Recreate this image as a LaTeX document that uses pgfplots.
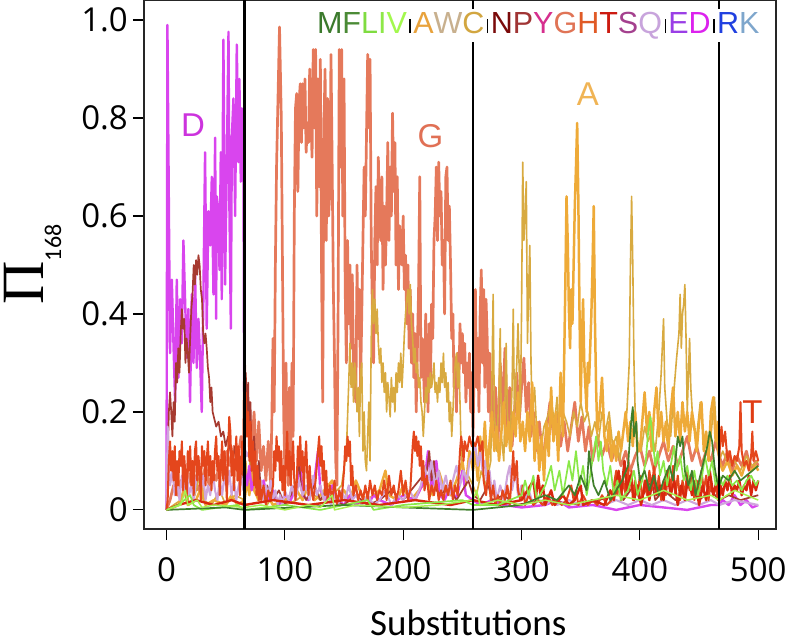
\documentclass[border=0pt]{standalone}
\usepackage{pgfplots}
\pgfplotsset{compat=1.18}
\usepackage{fontspec}
\setmainfont{Liberation Sans}
\newfontfamily\opensans{Open Sans}
\newfontfamily\carlito{Carlito}
\newfontfamily\lserif{Liberation Serif}
\definecolor{aaM}{HTML}{3B7A2C}\definecolor{aaF}{HTML}{4A8A35}\definecolor{aaL}{HTML}{7FDC40}
\definecolor{aaI}{HTML}{8EE848}\definecolor{aaV}{HTML}{A3F84E}\definecolor{aaA}{HTML}{E8A23C}
\definecolor{aaW}{HTML}{C8B08E}\definecolor{aaC}{HTML}{D2A640}\definecolor{aaN}{HTML}{7A0A0A}
\definecolor{aaP}{HTML}{A03434}\definecolor{aaY}{HTML}{D62E8E}\definecolor{aaG}{HTML}{E07456}
\definecolor{aaH}{HTML}{E05A26}\definecolor{aaT}{HTML}{CC1A10}\definecolor{aaS}{HTML}{A4408E}
\definecolor{aaQ}{HTML}{C8A4DC}\definecolor{aaE}{HTML}{9A3EE6}\definecolor{aaD}{HTML}{DC22EE}
\definecolor{aaR}{HTML}{2040E0}\definecolor{aaK}{HTML}{7EA6CC}
\definecolor{lG}{HTML}{E5795B}\definecolor{lD}{HTML}{D945EE}\definecolor{lA}{HTML}{EEAA38}
\definecolor{lC}{HTML}{D8AA40}\definecolor{lH}{HTML}{E4461C}\definecolor{lT}{HTML}{D8280E}
\definecolor{lP}{HTML}{A63A30}\definecolor{lQ}{HTML}{CFA6DC}\definecolor{lL}{HTML}{8AE848}
\definecolor{lM}{HTML}{3F7F2B}\definecolor{lV}{HTML}{A6F050}
\definecolor{tD}{HTML}{CC33DD}\definecolor{tG}{HTML}{E07055}\definecolor{tA}{HTML}{F0B455}\definecolor{tT}{HTML}{E03C14}
\newcommand{\sep}{\hspace{2.6pt}\rule{1.2pt}{14pt}\hspace{2.6pt}}
\begin{document}
\begin{tikzpicture}
\path[use as bounding box] (-144pt,-108pt) rectangle (643pt,529pt);
\begin{axis}[
  at={(0,0)}, anchor=south west,
  width=632pt, height=529pt, scale only axis,
  xmin=-19, xmax=515, ymin=-0.039, ymax=1.041,
  axis line style={line width=1.3pt, black!85},
  xtick={0,100,200,300,400,500}, xticklabels={0,100,200,300,400,500},
  ytick={0,0.2,0.4,0.6,0.8,1.0}, yticklabels={0,0.2,0.4,0.6,0.8,1.0},
  xtick pos=bottom, ytick pos=left, tick align=outside,
  major tick length=11pt,
  tick style={line width=1.2pt, black},
  ticklabel style={font=\opensans\fontsize{33}{33}\selectfont, inner sep=0pt},
  xticklabel style={yshift=-17pt},
  yticklabel style={xshift=-5pt},
  xlabel={Substitutions},
  xlabel style={at={(axis description cs:0.513,0)}, anchor=center, yshift=-94pt, inner sep=0pt, font=\carlito\fontsize{37}{37}\selectfont},
  ylabel={{\lserif\fontsize{60}{60}\selectfont Π}\raisebox{-18pt}{\carlito\fontsize{24}{24}\selectfont 168}},
  ylabel style={at={(axis description cs:-0.222,0.5)}, anchor=north, inner sep=0pt},
  title={\fontsize{30.5}{30.5}\selectfont\textcolor{aaM}{M}\textcolor{aaF}{F}\textcolor{aaL}{L}\textcolor{aaI}{I}\textcolor{aaV}{V}\sep\textcolor{aaA}{A}\textcolor{aaW}{W}\textcolor{aaC}{C}\sep\textcolor{aaN}{N}\textcolor{aaP}{P}\textcolor{aaY}{Y}\textcolor{aaG}{G}\textcolor{aaH}{H}\textcolor{aaT}{T}\textcolor{aaS}{S}\textcolor{aaQ}{Q}\sep\textcolor{aaE}{E}\textcolor{aaD}{D}\sep\textcolor{aaR}{R}\textcolor{aaK}{K}},
  title style={at={(rel axis cs:0.979,0.926)}, anchor=base east, fill=white, inner sep=3pt},
  every axis plot/.append style={no markers, line join=round},
]
% G
\addplot[lG, line width=2.7pt] coordinates {(0,0) (3,0.02) (6,0.05) (9,0.03) (12,0.06) (15,0.04) (18,0.08) (21,0.05) (24,0.07) (27,0.04) (30,0.06) (33,0.09) (36,0.05) (39,0.08) (42,0.06) (45,0.1) (48,0.07) (51,0.12) (54,0.09) (57,0.13) (60,0.1) (63,0.15) (65,0.12) (66,0.3) (67,0.2) (68,0.15) (70,0.22) (72,0.12) (74,0.2) (76,0.1) (78,0.18) (80,0.08) (82,0.13) (84,0.06) (86,0.14) (88,0.05) (89,0.18) (90,0.35) (91,0.2) (92,0.5) (93,0.7) (95.5,0.986) (97,0.8) (98,0.5) (99,0.2) (100,0.08) (101,0.3) (102,0.12) (103,0.05) (104,0.25) (105,0.1) (106,0.3) (107,0.15) (108,0.6) (109,0.82) (110,0.85) (111,0.65) (112,0.83) (113,0.87) (114,0.75) (115,0.87) (116,0.78) (117,0.88) (118,0.73) (119,0.79) (120,0.75) (121,0.9) (122,0.8) (123,0.72) (124,0.94) (125,0.78) (126,0.94) (127,0.6) (128,0.88) (129,0.66) (130,0.92) (131,0.5) (132,0.22) (133,0.78) (134,0.9) (135,0.55) (136,0.84) (137,0.6) (138,0.65) (139,0.93) (140,0.7) (141,0.45) (142,0.3) (143,0.1) (144,0.05) (145,0.4) (146,0.94) (147,0.7) (148,0.94) (149,0.6) (150,0.88) (151,0.45) (152,0.3) (153,0.55) (154,0.38) (155,0.5) (156,0.33) (157,0.48) (158,0.3) (159,0.25) (160,0.22) (161,0.5) (162,0.35) (163,0.45) (164,0.25) (165,0.4) (166,0.55) (167,0.7) (168,0.6) (170,0.93) (171,0.78) (172,0.92) (173,0.55) (174,0.4) (175,0.3) (176,0.55) (177,0.66) (178,0.5) (179,0.72) (180,0.6) (181,0.55) (182,0.68) (183,0.45) (184,0.62) (185,0.5) (186,0.6) (187,0.75) (188,0.55) (189,0.7) (190,0.6) (191,0.81) (192,0.65) (193,0.75) (194,0.5) (195,0.68) (196,0.45) (197,0.58) (198,0.55) (199,0.5) (200,0.6) (201,0.45) (202,0.52) (203,0.38) (204,0.5) (205,0.33) (206,0.45) (207,0.3) (208,0.4) (209,0.27) (210,0.36) (211,0.2) (212,0.33) (213,0.45) (214,0.68) (215,0.27) (216,0.35) (217,0.3) (218,0.22) (219,0.4) (220,0.3) (221,0.2) (222,0.38) (223,0.25) (224,0.42) (225,0.35) (226,0.55) (227,0.6) (228,0.7) (229,0.55) (230,0.71) (231,0.6) (232,0.65) (233,0.5) (234,0.55) (235,0.4) (236,0.68) (237,0.7) (238,0.55) (239,0.62) (240,0.5) (241,0.35) (242,0.4) (243,0.25) (244,0.3) (245,0.2) (246,0.32) (247,0.25) (248,0.38) (249,0.3) (250,0.36) (251,0.28) (252,0.34) (253,0.22) (254,0.3) (255,0.25) (256,0.32) (257,0.2) (258,0.28) (259,0.15) (260,0.3) (261,0.45) (262,0.25) (263,0.35) (264,0.2) (265,0.4) (266,0.49) (267,0.3) (268,0.45) (269,0.25) (270,0.43) (271,0.35) (272,0.2) (273,0.32) (274,0.18) (275,0.28) (276,0.15) (278,0.25) (280,0.12) (282,0.3) (284,0.2) (286,0.33) (288,0.15) (290,0.25) (292,0.13) (294,0.2) (296,0.28) (298,0.18) (300,0.25) (302,0.31) (304,0.2) (306,0.26) (308,0.15) (310,0.2) (312,0.12) (315,0.18) (318,0.1) (321,0.16) (324,0.22) (327,0.15) (330,0.2) (333,0.13) (336,0.18) (339,0.12) (342,0.17) (345,0.22) (348,0.14) (351,0.19) (354,0.12) (357,0.17) (360,0.1) (364,0.15) (368,0.11) (372,0.14) (376,0.1) (380,0.13) (384,0.09) (388,0.12) (392,0.08) (396,0.11) (400,0.13) (404,0.09) (408,0.12) (412,0.08) (416,0.11) (420,0.14) (424,0.1) (428,0.13) (432,0.09) (436,0.12) (440,0.15) (444,0.1) (448,0.13) (452,0.09) (456,0.12) (460,0.1) (464,0.14) (467,0.11) (470,0.09) (474,0.12) (478,0.08) (482,0.11) (486,0.09) (490,0.12) (494,0.08) (498,0.1) (500,0.09)};
% C
\addplot[lC, line width=1.6pt] coordinates {(0,0) (12,0.02) (16,0.06) (19,0.01) (24,0.03) (28,0.07) (31,0.02) (38,0.01) (45,0.04) (50,0.01) (58,0.03) (66,0.02) (67,0.1) (69,0.04) (71,0.12) (73,0.05) (75,0.09) (77,0.02) (80,0.04) (85,0.01) (90,0.03) (100,0.01) (110,0.02) (120,0.04) (130,0.02) (140,0.03) (148,0.05) (152,0.12) (154,0.26) (155,0.34) (156,0.25) (157,0.3) (158,0.22) (159,0.3) (160,0.27) (161,0.2) (162,0.25) (163,0.15) (164,0.28) (165,0.3) (166,0.12) (167,0.2) (168,0.1) (169,0.08) (170,0.15) (171,0.22) (172,0.1) (173,0.35) (174,0.45) (175,0.38) (176,0.43) (177,0.36) (178,0.41) (179,0.34) (180,0.3) (181,0.33) (182,0.26) (183,0.3) (184,0.24) (185,0.28) (186,0.2) (187,0.26) (188,0.23) (189,0.19) (190,0.27) (191,0.22) (192,0.25) (193,0.2) (194,0.28) (195,0.24) (196,0.3) (197,0.26) (198,0.32) (199,0.25) (200,0.3) (201,0.36) (202,0.4) (203,0.43) (204,0.45) (205,0.4) (206,0.46) (207,0.38) (208,0.35) (209,0.3) (210,0.33) (211,0.28) (212,0.3) (213,0.25) (214,0.27) (215,0.22) (216,0.2) (217,0.15) (218,0.2) (219,0.25) (220,0.22) (221,0.27) (222,0.24) (223,0.28) (224,0.25) (225,0.27) (226,0.3) (227,0.24) (228,0.26) (229,0.22) (230,0.27) (231,0.24) (232,0.3) (233,0.26) (234,0.32) (235,0.25) (236,0.28) (237,0.22) (238,0.26) (239,0.18) (240,0.22) (241,0.15) (242,0.2) (243,0.26) (244,0.3) (245,0.32) (246,0.25) (247,0.3) (248,0.22) (249,0.12) (250,0.08) (252,0.05) (255,0.07) (259,0.05) (262,0.03) (266,0.08) (270,0.05) (274,0.1) (276,0.44) (277,0.2) (279,0.12) (281,0.25) (282,0.37) (283,0.15) (285,0.1) (287,0.34) (288,0.2) (290,0.12) (292,0.25) (293,0.41) (294,0.2) (296,0.3) (297,0.38) (299,0.2) (300,0.4) (301,0.71) (302,0.55) (303,0.6) (304,0.67) (305,0.34) (306,0.45) (307,0.54) (308,0.3) (309,0.2) (311,0.25) (313,0.15) (316,0.12) (319,0.17) (322,0.19) (325,0.22) (328,0.18) (330,0.23) (332,0.15) (335,0.2) (338,0.18) (341,0.15) (344,0.2) (347,0.17) (350,0.22) (353,0.18) (356,0.2) (359,0.15) (362,0.18) (365,0.14) (368,0.2) (371,0.16) (374,0.2) (377,0.13) (380,0.15) (383,0.1) (386,0.16) (389,0.2) (391,0.3) (392,0.5) (393,0.64) (394,0.5) (395,0.3) (396,0.2) (398,0.14) (401,0.12) (404,0.17) (407,0.14) (410,0.16) (413,0.12) (416,0.2) (418,0.28) (420,0.39) (421,0.25) (423,0.18) (426,0.15) (429,0.25) (431,0.31) (433,0.36) (434,0.44) (435,0.33) (436,0.4) (437,0.42) (438,0.46) (439,0.35) (440,0.2) (442,0.35) (443,0.25) (445,0.17) (448,0.15) (451,0.22) (454,0.14) (457,0.12) (460,0.15) (463,0.23) (465,0.14) (467,0.1) (470,0.12) (475,0.09) (480,0.1) (485,0.08) (490,0.11) (495,0.09) (500,0.1)};
% A
\addplot[lA, line width=2.5pt] coordinates {(0,0) (10,0.01) (15,0.04) (18,0.01) (25,0.02) (30,0.05) (33,0.01) (40,0.02) (50,0.01) (55,0.03) (60,0.01) (66,0.02) (68,0.06) (70,0.03) (72,0.08) (74,0.04) (78,0.02) (85,0.03) (90,0.01) (100,0.02) (110,0.04) (115,0.02) (120,0.05) (125,0.02) (130,0.03) (140,0.06) (143,0.02) (150,0.04) (155,0.02) (160,0.06) (165,0.03) (170,0.02) (180,0.04) (185,0.08) (188,0.03) (195,0.02) (200,0.05) (205,0.02) (210,0.03) (220,0.06) (225,0.03) (230,0.08) (235,0.04) (240,0.03) (245,0.06) (250,0.1) (253,0.05) (256,0.12) (259,0.08) (261,0.12) (263,0.06) (265,0.15) (267,0.1) (269,0.18) (271,0.08) (273,0.14) (275,0.2) (277,0.12) (279,0.17) (281,0.1) (283,0.16) (285,0.22) (287,0.13) (289,0.18) (291,0.12) (293,0.2) (295,0.15) (297,0.24) (299,0.14) (301,0.18) (303,0.12) (305,0.2) (307,0.14) (309,0.26) (311,0.1) (313,0.18) (315,0.08) (317,0.15) (319,0.06) (321,0.18) (323,0.11) (325,0.25) (327,0.14) (329,0.2) (331,0.1) (333,0.28) (335,0.15) (337,0.46) (338,0.64) (339,0.55) (340,0.41) (341,0.33) (342,0.45) (343,0.38) (344,0.5) (345,0.62) (346,0.7) (347,0.79) (348,0.63) (349,0.4) (350,0.22) (351,0.35) (352,0.43) (353,0.3) (354,0.25) (355,0.2) (356,0.3) (357,0.26) (358,0.33) (359,0.4) (360,0.5) (361,0.62) (362,0.39) (363,0.25) (364,0.16) (366,0.2) (368,0.27) (370,0.15) (372,0.12) (374,0.18) (376,0.1) (378,0.14) (380,0.1) (382,0.16) (384,0.12) (386,0.16) (388,0.2) (390,0.14) (392,0.18) (394,0.13) (396,0.2) (398,0.12) (400,0.12) (402,0.18) (404,0.24) (406,0.16) (408,0.2) (410,0.12) (412,0.2) (414,0.25) (416,0.15) (418,0.2) (420,0.14) (422,0.18) (424,0.12) (426,0.2) (428,0.25) (430,0.15) (432,0.2) (434,0.14) (436,0.22) (438,0.16) (440,0.2) (442,0.14) (444,0.2) (446,0.17) (448,0.12) (450,0.18) (452,0.22) (454,0.12) (456,0.16) (458,0.1) (460,0.2) (462,0.23) (464,0.14) (466,0.18) (467,0.1) (470,0.08) (474,0.1) (478,0.07) (482,0.09) (486,0.07) (490,0.1) (494,0.08) (498,0.09) (500,0.08)};
% D
\addplot[lD, line width=2.4pt] coordinates {(0,0) (0.8,0.99) (3,0.32) (4.5,0.47) (5.9,0.34) (7.3,0.22) (8.7,0.47) (10.1,0.27) (11.5,0.43) (12.9,0.34) (14.3,0.55) (15.7,0.43) (17.1,0.31) (18.5,0.41) (19.9,0.22) (21.4,0.44) (22.8,0.30) (24.2,0.48) (25.6,0.29) (27,0.39) (28.4,0.31) (29.8,0.2) (31.2,0.44) (32.6,0.73) (34,0.37) (35.4,0.61) (36.9,0.54) (38.3,0.68) (39.7,0.44) (41.1,0.76) (41.9,0.39) (42.5,0.64) (43.9,0.61) (44.8,0.49) (45.9,0.73) (46.7,0.43) (48.1,0.96) (49.5,0.46) (50.9,0.69) (52.4,0.976) (53.2,0.61) (54.4,0.37) (55.2,0.76) (56.6,0.84) (58,0.6) (59.4,0.95) (60.8,0.71) (61.6,0.88) (62.8,0.67) (63.6,0.82) (64.4,0.78) (65,0.76) (65.5,0.32) (66,0.08) (68,0.05) (70,0.09) (72,0.04) (75,0.07) (78,0.03) (82,0.06) (86,0.02) (90,0.04) (95,0.01) (100,0.03) (105,0.02) (110,0.05) (113,0.1) (115,0.03) (120,0.02) (125,0.06) (128,0.12) (130,0.04) (135,0.02) (140,0.05) (145,0.02) (150,0.01) (155,0.03) (160,0.01) (165,0.02) (170,0.01) (175,0.03) (180,0.02) (190,0.01) (200,0.03) (210,0.02) (218,0.06) (221,0.12) (224,0.04) (228,0.1) (231,0.03) (235,0.02) (240,0.05) (245,0.02) (250,0.08) (253,0.03) (259,0.02) (265,0.01) (275,0.02) (285,0.01) (300,0.005) (320,0.01) (330,0.02) (340,0.005) (360,0.01) (380,0.0) (400,0.01) (420,0.005) (440,0.0) (460,0.01) (467,0.01) (470,0.02) (475,0.01) (480,0.03) (485,0.01) (490,0.02) (495,0.005) (500,0.01)};
% P (brown)
\addplot[lP, line width=1.7pt] coordinates {(0,0) (1,0.1) (2,0.2) (3,0.24) (4,0.2) (5,0.15) (6,0.22) (7,0.18) (8,0.3) (9,0.26) (10,0.33) (11,0.28) (12,0.36) (13,0.41) (14,0.37) (15,0.39) (16,0.3) (17,0.35) (18,0.32) (19,0.28) (20,0.35) (21,0.41) (22,0.44) (23,0.5) (24,0.46) (25,0.51) (26,0.48) (27,0.52) (28,0.5) (29,0.45) (30,0.43) (31,0.36) (32,0.34) (33,0.36) (34,0.33) (35,0.29) (36,0.27) (37,0.22) (38,0.25) (39,0.2) (40,0.19) (42,0.17) (44,0.18) (46,0.15) (48,0.16) (50,0.13) (52,0.15) (54,0.12) (56,0.1) (58,0.13) (60,0.08) (62,0.11) (64,0.06) (66,0.12) (67,0.28) (68,0.18) (69,0.26) (70,0.12) (71,0.22) (72,0.08) (74,0.15) (76,0.05) (78,0.1) (80,0.03) (85,0.05) (90,0.02) (95,0.04) (100,0.01) (105,0.03) (110,0.06) (112,0.1) (114,0.04) (118,0.02) (125,0.05) (130,0.02) (135,0.04) (140,0.02) (150,0.01) (160,0.03) (170,0.01) (180,0.02) (190,0.04) (200,0.02) (210,0.05) (220,0.08) (222,0.12) (224,0.06) (226,0.1) (228,0.04) (232,0.03) (238,0.05) (245,0.02) (250,0.04) (255,0.06) (259,0.03) (265,0.02) (272,0.05) (275,0.02) (285,0.03) (295,0.01) (320,0.02) (350,0.01) (380,0.03) (383,0.06) (386,0.02) (395,0.05) (400,0.02) (410,0.06) (413,0.02) (420,0.04) (430,0.02) (440,0.05) (450,0.02) (460,0.04) (467,0.02) (475,0.03) (485,0.02) (500,0.03)};
% Q (lavender)
\addplot[lQ, line width=2.1pt] coordinates {(0,0) (1,0.17) (2,0.09) (3,0.05) (5,0.08) (7,0.03) (9,0.06) (11,0.02) (13,0.07) (15,0.04) (17,0.08) (19,0.03) (21,0.05) (23,0.02) (25,0.06) (27,0.09) (29,0.04) (31,0.07) (33,0.02) (35,0.05) (37,0.03) (39,0.08) (41,0.04) (43,0.02) (45,0.06) (47,0.03) (49,0.07) (51,0.04) (53,0.08) (55,0.03) (57,0.06) (59,0.02) (61,0.05) (63,0.07) (65,0.04) (66,0.1) (67,0.12) (68,0.11) (70,0.12) (72,0.1) (74,0.11) (76,0.07) (78,0.04) (80,0.06) (82,0.02) (84,0.05) (86,0.03) (88,0.06) (90,0.02) (92,0.04) (94,0.01) (96,0.03) (98,0.01) (100,0.04) (103,0.02) (106,0.05) (109,0.02) (112,0.06) (115,0.03) (118,0.05) (121,0.02) (124,0.07) (127,0.03) (130,0.05) (133,0.02) (136,0.04) (139,0.01) (142,0.03) (145,0.01) (148,0.04) (151,0.02) (154,0.05) (157,0.02) (160,0.03) (165,0.01) (170,0.03) (175,0.01) (180,0.02) (185,0.04) (190,0.01) (195,0.03) (200,0.02) (205,0.04) (210,0.02) (215,0.05) (218,0.09) (221,0.06) (224,0.1) (227,0.05) (230,0.08) (233,0.04) (236,0.07) (239,0.03) (242,0.06) (245,0.09) (248,0.05) (251,0.08) (254,0.06) (256,0.1) (259,0.12) (261,0.13) (263,0.09) (265,0.12) (267,0.08) (269,0.1) (271,0.05) (273,0.08) (275,0.03) (277,0.06) (279,0.02) (282,0.05) (285,0.02) (288,0.07) (290,0.09) (292,0.04) (295,0.08) (297,0.03) (300,0.05) (303,0.02) (306,0.04) (310,0.01) (315,0.02) (320,0.01) (325,0.02) (330,0.01) (340,0.02) (350,0.01) (360,0.02) (370,0.01) (380,0.02) (390,0.01) (400,0.02) (410,0.01) (420,0.02) (430,0.01) (440,0.02) (450,0.01) (460,0.02) (467,0.01) (480,0.02) (500,0.01)};
% H (orange red)
\addplot[lH, line width=2pt] coordinates {(0,0) (1,0.02) (2,0.1) (3,0.14) (4,0.08) (5,0.12) (6,0.06) (7,0.13) (8,0.03) (9,0.1) (10,0.05) (11,0.12) (12,0.09) (13,0.14) (14,0.04) (15,0.11) (16,0.07) (17,0.02) (18,0.12) (19,0.08) (20,0.13) (21,0.05) (22,0.1) (23,0.03) (24,0.12) (25,0.14) (26,0.06) (27,0.11) (28,0.08) (29,0.02) (30,0.13) (31,0.09) (32,0.12) (33,0.05) (34,0.1) (35,0.14) (36,0.07) (37,0.11) (38,0.04) (39,0.1) (40,0.06) (41,0.12) (42,0.15) (43,0.08) (44,0.11) (45,0.03) (46,0.09) (47,0.14) (48,0.06) (49,0.12) (50,0.08) (51,0.02) (52,0.11) (53,0.19) (54,0.16) (55,0.07) (56,0.12) (57,0.04) (58,0.1) (59,0.15) (60,0.06) (61,0.13) (62,0.03) (63,0.09) (64,0.14) (65,0.07) (66,0.2) (67,0.24) (68,0.15) (69,0.2) (70,0.1) (71,0.18) (72,0.08) (73,0.14) (74,0.05) (75,0.12) (76,0.03) (77,0.09) (78,0.02) (79,0.06) (80,0.02) (82,0.05) (84,0.01) (86,0.04) (88,0.02) (90,0.05) (91,0.12) (92,0.08) (93,0.15) (94,0.1) (95,0.13) (96,0.06) (97,0.12) (98,0.04) (99,0.09) (100,0.03) (101,0.1) (102,0.16) (103,0.07) (104,0.12) (105,0.05) (106,0.1) (107,0.14) (108,0.06) (109,0.02) (110,0.05) (111,0.13) (112,0.09) (113,0.15) (114,0.08) (115,0.12) (116,0.04) (117,0.1) (118,0.14) (119,0.07) (120,0.03) (121,0.09) (122,0.05) (124,0.02) (126,0.06) (128,0.12) (129,0.15) (130,0.09) (131,0.13) (132,0.06) (133,0.1) (134,0.03) (135,0.08) (136,0.02) (138,0.05) (140,0.02) (142,0.06) (144,0.01) (146,0.04) (148,0.02) (150,0.08) (151,0.13) (152,0.1) (153,0.15) (154,0.11) (155,0.14) (156,0.05) (157,0.09) (158,0.03) (160,0.05) (162,0.02) (164,0.04) (166,0.02) (168,0.05) (170,0.02) (172,0.06) (174,0.03) (176,0.05) (178,0.02) (180,0.04) (182,0.03) (184,0.06) (186,0.02) (188,0.07) (190,0.03) (192,0.05) (194,0.02) (196,0.04) (198,0.08) (200,0.03) (202,0.06) (204,0.02) (206,0.04) (208,0.13) (209,0.16) (210,0.12) (211,0.15) (212,0.11) (213,0.14) (214,0.09) (215,0.13) (216,0.06) (217,0.1) (218,0.04) (220,0.07) (222,0.02) (224,0.05) (226,0.03) (228,0.06) (230,0.02) (232,0.04) (234,0.02) (236,0.05) (238,0.03) (240,0.06) (242,0.02) (244,0.05) (246,0.03) (248,0.12) (249,0.15) (250,0.13) (251,0.1) (252,0.14) (254,0.12) (256,0.15) (258,0.13) (259,0.14) (261,0.13) (263,0.15) (265,0.12) (267,0.14) (268,0.06) (270,0.03) (272,0.08) (274,0.02) (276,0.05) (278,0.01) (280,0.03) (282,0.01) (284,0.04) (286,0.02) (288,0.05) (290,0.01) (292,0.08) (293,0.12) (294,0.06) (296,0.1) (297,0.04) (299,0.02) (301,0.05) (303,0.01) (306,0.03) (310,0.01) (314,0.02) (318,0.01) (322,0.03) (326,0.01) (330,0.02) (334,0.01) (338,0.02) (342,0.05) (344,0.02) (346,0.04) (348,0.01) (352,0.03) (356,0.01) (360,0.02) (364,0.01) (368,0.03) (372,0.01) (376,0.02) (380,0.08) (381,0.03) (383,0.07) (384,0.02) (386,0.06) (388,0.03) (390,0.09) (391,0.04) (393,0.08) (394,0.02) (396,0.06) (398,0.03) (400,0.07) (402,0.02) (404,0.06) (406,0.03) (408,0.08) (410,0.04) (412,0.09) (414,0.03) (416,0.07) (418,0.02) (420,0.06) (422,0.03) (424,0.08) (426,0.04) (428,0.09) (430,0.03) (432,0.07) (434,0.02) (436,0.06) (438,0.03) (440,0.08) (442,0.04) (444,0.07) (446,0.02) (448,0.06) (450,0.03) (452,0.08) (454,0.04) (456,0.07) (458,0.02) (460,0.06) (462,0.03) (464,0.05) (466,0.02) (467,0.1) (468,0.15) (469,0.17) (470,0.13) (472,0.16) (474,0.1) (476,0.12) (478,0.09) (480,0.11) (482,0.1) (484,0.13) (485,0.22) (486,0.12) (488,0.09) (490,0.1) (492,0.08) (494,0.11) (495,0.16) (496,0.1) (498,0.12) (500,0.1)};
% T (red)
\addplot[lT, line width=2.4pt] coordinates {(0,0) (10,0.01) (25,0.02) (40,0.01) (55,0.02) (66,0.01) (90,0.02) (120,0.01) (150,0.02) (180,0.01) (210,0.02) (240,0.01) (259,0.02) (280,0.01) (300,0.02) (310,0.06) (312,0.02) (314,0.07) (316,0.03) (318,0.05) (320,0.01) (325,0.04) (328,0.01) (335,0.03) (340,0.01) (345,0.02) (350,0.05) (352,0.01) (360,0.02) (370,0.01) (375,0.04) (378,0.02) (382,0.08) (384,0.03) (387,0.1) (389,0.04) (392,0.07) (395,0.02) (398,0.05) (401,0.01) (405,0.06) (408,0.02) (411,0.07) (414,0.03) (417,0.05) (420,0.02) (423,0.08) (426,0.03) (429,0.06) (432,0.01) (435,0.05) (438,0.02) (441,0.07) (444,0.03) (447,0.06) (450,0.01) (453,0.05) (456,0.02) (459,0.08) (462,0.03) (465,0.06) (467,0.02) (468,0.05) (470,0.03) (472,0.06) (474,0.04) (476,0.07) (478,0.03) (480,0.05) (482,0.04) (484,0.06) (486,0.03) (488,0.05) (490,0.04) (492,0.07) (494,0.03) (496,0.06) (498,0.04) (500,0.06)};
% L (light green)
\addplot[lL, line width=1.7pt] coordinates {(0,0) (10,0.01) (20,0.03) (23,0.01) (30,0.0) (60,0.01) (66,0) (100,0.01) (130,0.0) (170,0.02) (175,0.0) (200,0.01) (250,0.02) (259,0.01) (280,0.01) (300,0.03) (303,0.06) (306,0.03) (310,0.07) (313,0.02) (320,0.05) (325,0.09) (328,0.04) (332,0.08) (335,0.03) (340,0.1) (343,0.06) (346,0.12) (349,0.05) (352,0.09) (355,0.03) (358,0.07) (361,0.12) (363,0.15) (365,0.1) (367,0.14) (369,0.08) (372,0.05) (375,0.09) (378,0.03) (381,0.06) (384,0.02) (390,0.04) (395,0.08) (398,0.03) (402,0.06) (405,0.1) (407,0.16) (409,0.19) (411,0.14) (413,0.09) (415,0.12) (417,0.07) (420,0.1) (423,0.05) (426,0.09) (429,0.13) (431,0.08) (434,0.11) (437,0.06) (440,0.09) (443,0.04) (446,0.08) (449,0.03) (452,0.06) (455,0.11) (458,0.07) (461,0.1) (464,0.05) (467,0.07) (470,0.05) (474,0.07) (478,0.05) (482,0.06) (486,0.04) (490,0.06) (494,0.07) (498,0.05) (500,0.06)};
% M (dark green)
\addplot[lM, line width=1.7pt] coordinates {(0,0) (50,0.005) (66,0) (150,0.01) (200,0.005) (259,0) (300,0.01) (320,0.03) (330,0.02) (340,0.05) (345,0.03) (350,0.07) (355,0.04) (357,0.12) (359,0.08) (361,0.05) (365,0.03) (370,0.06) (375,0.02) (380,0.04) (385,0.06) (390,0.09) (392,0.16) (393,0.19) (394,0.21) (395,0.15) (397,0.18) (398,0.1) (400,0.06) (404,0.08) (408,0.04) (412,0.07) (416,0.03) (420,0.06) (425,0.09) (428,0.06) (430,0.1) (432,0.15) (434,0.13) (436,0.15) (438,0.08) (441,0.05) (444,0.08) (447,0.03) (450,0.06) (454,0.1) (457,0.13) (459,0.16) (461,0.14) (463,0.09) (465,0.06) (467,0.05) (470,0.07) (475,0.06) (480,0.08) (485,0.06) (490,0.07) (495,0.08) (500,0.09)};
% V (bright green)
\addplot[lV, line width=1.5pt] coordinates {(0,0) (12,0.01) (16,0.04) (18,0.01) (26,0.02) (30,0.005) (40,0.01) (66,0.005) (80,0.01) (100,0.0) (120,0.01) (130,0.005) (140,0.03) (142,0.0) (160,0.01) (200,0.005) (230,0.01) (259,0.02) (262,0.04) (265,0.01) (280,0.02) (300,0.01) (320,0.02) (340,0.01) (360,0.02) (380,0.03) (400,0.02) (420,0.04) (440,0.02) (460,0.03) (467,0.02) (480,0.04) (490,0.03) (500,0.02)};
% separators
\addplot[black, line width=2.2pt] coordinates {(66,-0.039) (66,1.041)};
\addplot[black, line width=2.2pt] coordinates {(259,-0.039) (259,1.041)};
\addplot[black, line width=2.2pt] coordinates {(467,-0.039) (467,1.041)};
\node[text=tD, font=\fontsize{33}{33}\selectfont] at (axis cs:22.5,0.786) {D};
\node[text=tG, font=\fontsize{33}{33}\selectfont] at (axis cs:223,0.763) {G};
\node[text=tA, font=\fontsize{33}{33}\selectfont] at (axis cs:356,0.849) {A};
\node[text=tT, font=\fontsize{33}{33}\selectfont] at (axis cs:495,0.2) {T};
\end{axis}
\end{tikzpicture}
\end{document}
